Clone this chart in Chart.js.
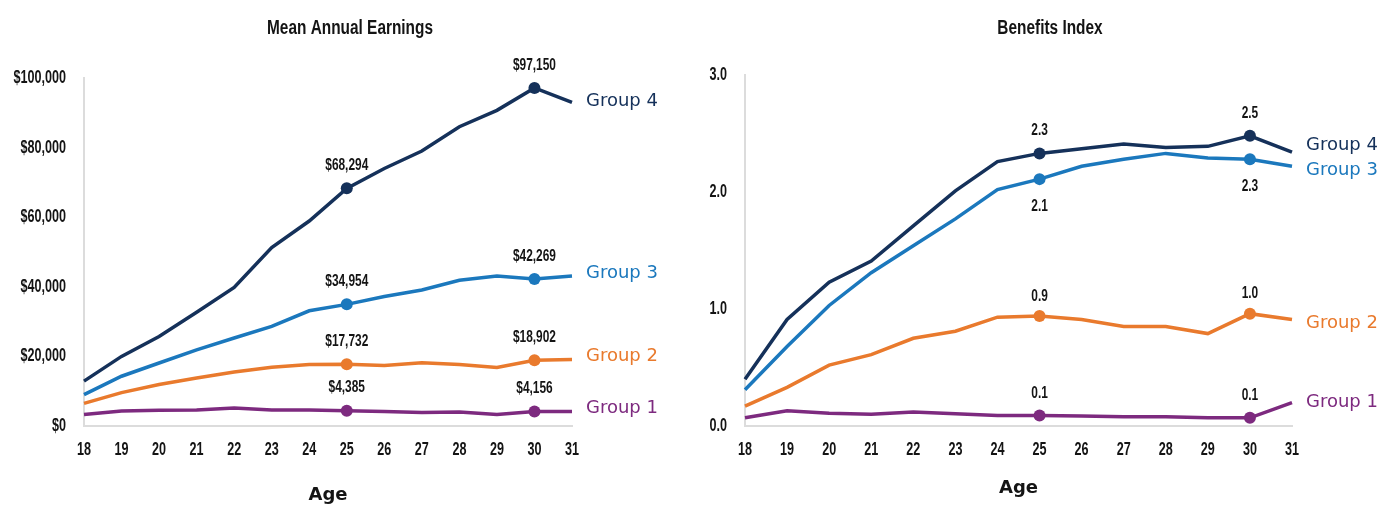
<!DOCTYPE html>
<html>
<head>
<meta charset="utf-8">
<script src="https://cdn.jsdelivr.net/npm/chart.js@4"></script>
<style>
  html, body { margin: 0; padding: 0; background: #fff; }
  #wrap { width: 1400px; height: 512px; position: relative; }
  .box { position: absolute; top: 0; width: 700px; height: 512px; }
  #boxL { left: 0; }
  #boxR { left: 700px; }
</style>
</head>
<body>
<div id="wrap">
  <div class="box" id="boxL"><canvas id="earnings"></canvas></div>
  <div class="box" id="boxR"><canvas id="benefits"></canvas></div>
</div>
<script>
// ages on the x axis
const ages = ["18", "19", "20", "21", "22", "23", "24", "25", "26", "27", "28", "29", "30", "31"];
const groupNames = ["Group 1", "Group 2", "Group 3", "Group 4"];

// Mean Annual Earnings ($)
const earnG1 = [3300, 4300, 4500, 4600, 5200, 4600, 4600, 4385, 4200, 3900, 4000, 3300, 4156, 4200];
const earnG2 = [6500, 9600, 11900, 13800, 15500, 16900, 17700, 17732, 17400, 18200, 17700, 16800, 18902, 19100];
const earnG3 = [9000, 14300, 18100, 21900, 25300, 28600, 33100, 34954, 37200, 39100, 41900, 43100, 42269, 43100];
const earnG4 = [12900, 20000, 25700, 32700, 39800, 51300, 58900, 68294, 74000, 79000, 86000, 90700, 97150, 93000];

// Benefits Index
const benG1 = [0.07, 0.13, 0.11, 0.10, 0.12, 0.105, 0.09, 0.09, 0.085, 0.08, 0.08, 0.07, 0.07, 0.20];
const benG2 = [0.17, 0.33, 0.52, 0.61, 0.75, 0.81, 0.93, 0.94, 0.91, 0.85, 0.85, 0.79, 0.96, 0.91];
const benG3 = [0.31, 0.68, 1.03, 1.31, 1.54, 1.77, 2.02, 2.11, 2.22, 2.28, 2.33, 2.29, 2.28, 2.22];
const benG4 = [0.40, 0.91, 1.23, 1.41, 1.71, 2.01, 2.26, 2.33, 2.37, 2.41, 2.38, 2.39, 2.48, 2.34];

// ages that get a marker and a value label (25 and 30)
const markedIdx = [7, 12];

const colors = ["#7d2a7f", "#e97a2d", "#1b78bd", "#15315a"];
const textColor = "#141414";
const narrowFont = "'Liberation Sans', Arial, sans-serif";
const wideFont = "'DejaVu Sans', sans-serif";

const money = (v) => "$" + Number(v).toLocaleString("en-US");
const oneDec = (v) => Number(v).toFixed(1);

// per-chart drawing settings (kept out of chart options so nothing gets resolved as scriptable)
const specs = {
  earnings: {
    title: "Mean Annual Earnings",
    format: money,
    valueOffset: [-23, -23, -23, -23],
    nameOffset: [-3, -3, -3, -1],
  },
  benefits: {
    title: "Benefits Index",
    format: oneDec,
    valueOffset: [-22, -20, 27, -23],
    nameOffset: [0, 4, 4, -7],
  },
};

// squeezed text, the original uses a condensed face
function narrowText(ctx, text, x, y, size, align, sx) {
  ctx.save();
  ctx.font = "bold " + size + "px " + narrowFont;
  ctx.fillStyle = textColor;
  ctx.textAlign = align;
  ctx.textBaseline = "middle";
  ctx.translate(x, y);
  ctx.scale(sx, 1);
  ctx.fillText(text, 0, 0);
  ctx.restore();
}

function makeDataset(name, data, i) {
  return {
    label: name,
    data: data,
    borderColor: colors[i],
    backgroundColor: colors[i],
    borderWidth: 3.5,
    tension: 0,
    pointRadius: data.map((v, k) => (markedIdx.includes(k) ? 6 : 0)),
    pointHoverRadius: 0,
    pointBorderWidth: 0,
  };
}

const textPlugin = {
  id: "textPlugin",
  afterDraw(chart) {
    const spec = specs[chart.canvas.id];
    const ctx = chart.ctx;
    const xs = chart.scales.x;
    const ys = chart.scales.y;

    // title
    narrowText(ctx, spec.title, chart.width / 2, 28, 20, "center", 0.77);

    // y tick labels
    ys.ticks.forEach((t) => {
      narrowText(ctx, spec.format(t.value), xs.left - 18, ys.getPixelForValue(t.value), 18, "right", 0.7);
    });
    // x tick labels
    ages.forEach((a, i) => {
      narrowText(ctx, a, xs.getPixelForTick(i), ys.bottom + 24, 18, "center", 0.7);
    });

    chart.data.datasets.forEach((ds, i) => {
      const meta = chart.getDatasetMeta(i);
      markedIdx.forEach((k) => {
        const pt = meta.data[k];
        narrowText(ctx, spec.format(ds.data[k]), pt.x, pt.y + spec.valueOffset[i], 17, "center", 0.7);
      });
      const last = meta.data[meta.data.length - 1];
      ctx.save();
      ctx.font = "18px " + wideFont;
      ctx.fillStyle = colors[i];
      ctx.textAlign = "left";
      ctx.textBaseline = "middle";
      ctx.fillText(ds.label, last.x + 14, last.y + spec.nameOffset[i]);
      ctx.restore();
    });
  },
};

function makeChart(id, series, yMax, yStep, top, axisWidth, rightPad, agePadBottom) {
  return new Chart(document.getElementById(id), {
    type: "line",
    data: {
      labels: ages,
      datasets: series.map((d, i) => makeDataset(groupNames[i], d, i)),
    },
    options: {
      responsive: true,
      maintainAspectRatio: false,
      animation: false,
      events: [],
      layout: { padding: { left: 0, right: rightPad, top: top, bottom: 0 } },
      scales: {
        x: {
          grid: { display: false, drawTicks: false },
          border: { color: "#dcdcdc", width: 2 },
          ticks: { display: false, autoSkip: false },
          title: {
            display: true,
            text: "Age",
            color: textColor,
            font: { family: wideFont, size: 18, weight: "bold" },
            padding: { top: 0, bottom: agePadBottom },
          },
          afterFit: (s) => { s.height = 86; },
        },
        y: {
          min: 0,
          max: yMax,
          grid: { display: false, drawTicks: false },
          border: { color: "#dcdcdc", width: 2 },
          ticks: { display: false, stepSize: yStep },
          afterFit: (s) => { s.width = axisWidth; },
        },
      },
      plugins: {
        legend: { display: false },
        tooltip: { enabled: false },
        title: { display: false },
      },
    },
    plugins: [textPlugin],
  });
}

makeChart("earnings", [earnG1, earnG2, earnG3, earnG4], 100000, 20000, 78, 84, 128, 6);
makeChart("benefits", [benG1, benG2, benG3, benG4], 3, 1, 75, 45, 108, 13);
</script>
</body>
</html>
